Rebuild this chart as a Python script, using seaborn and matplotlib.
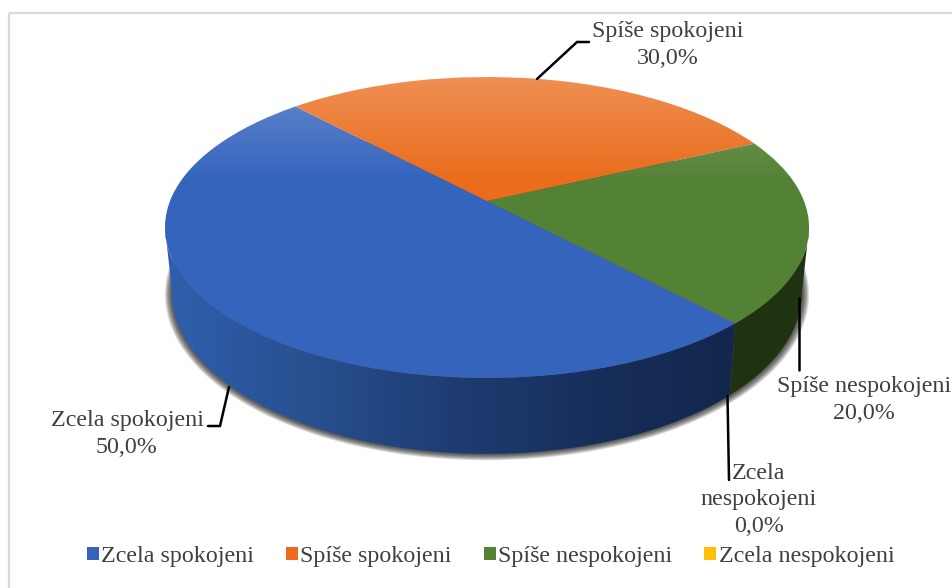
"""3D style pie chart of satisfaction answers."""

import matplotlib
matplotlib.use("Agg")
import matplotlib.pyplot as plt
import numpy as np
import seaborn as sns
from matplotlib.colors import LinearSegmentedColormap
from matplotlib.patches import Polygon, Rectangle
from matplotlib.transforms import Transform

categories = ["Zcela spokojeni", "Spíše spokojeni", "Spíše nespokojeni", "Zcela nespokojeni"]
values = [50.0, 30.0, 20.0, 0.0]
colors = ["#3564BD", "#EA6C1C", "#548235", "#FFC000"]
wall_colors = ["#1E3C72", "#A6490F", "#1F3311", "#B58800"]

sns.set_theme(style="white")
plt.rcParams["font.family"] = ["Liberation Serif", "DejaVu Serif"]

TEXT = "#404040"
FS = 17.3
K = 0.176


class Perspective(Transform):
    """Map the unit circle of the pie onto the tilted disc, in pixels."""
    input_dims = 2
    output_dims = 2
    is_separable = False
    has_inverse = False

    def __init__(self, cx, a, y0, b, k=K):
        super().__init__()
        self.cx, self.a, self.y0, self.b, self.k = cx, a, y0, b, k

    def transform_non_affine(self, xy):
        xy = np.asarray(xy, dtype=float)
        d = 1 + self.k * xy[:, 1]
        return np.column_stack((self.cx + self.a * xy[:, 0] / d,
                                (self.y0 + self.b * xy[:, 1]) / d))


top = Perspective(487, 317, 201, -110.4)
bottom = Perspective(487, 310, 264, -110.0)


def rim(persp, t1, t2, n=200):
    t = np.radians(np.linspace(t1, t2, n))
    return persp.transform_non_affine(np.column_stack((np.cos(t), np.sin(t))))


fig = plt.figure(figsize=(9.53, 5.88), dpi=100)
ax = fig.add_axes([0, 0, 1, 1])

wedges, _ = ax.pie(values, colors=colors, startangle=-47, counterclock=False,
                   wedgeprops={"linewidth": 0, "zorder": 5})
for w in wedges:
    w.set_transform(top + ax.transData)

# outer frame, cut by the picture on the right and at the bottom
ax.add_patch(Rectangle((9.5, 12.5), 960, 600, fill=False, ec="#D9D9D9", lw=1.6, zorder=0))

# soft shadow under the disc
for off in np.arange(7, 0, -1):
    p = Perspective(487, 310 + off, 264 + off * 0.2, -110.0 - off * 0.55)
    ax.add_patch(Polygon(rim(p, 0, 360), fc="#111111", ec="none", alpha=0.15, zorder=1))

# side walls of the front half
front_lo, front_hi = -180 + np.degrees(np.arcsin(K)), -np.degrees(np.arcsin(K))
wall_cmap = LinearSegmentedColormap.from_list(
    "wall", ["#2F5FAE", "#28508F", "#1E3C72", "#172E5A", "#13264C"])
for i, w in enumerate(wedges):
    if w.theta2 - w.theta1 <= 0:
        continue
    for shift in (-360, 0, 360):
        lo, hi = max(w.theta1 + shift, front_lo), min(w.theta2 + shift, front_hi)
        if hi <= lo:
            continue
        pts = np.vstack((rim(top, lo, hi), rim(bottom, hi, lo)))
        if i == 0:
            im = ax.imshow(np.linspace(0, 1, 256)[None, :], cmap=wall_cmap, aspect="auto",
                           extent=[165, 745, 460, 220], zorder=3)
            im.set_clip_path(Polygon(pts, transform=ax.transData))
        else:
            ax.add_patch(Polygon(pts, fc=wall_colors[i], ec="none", zorder=2))

# light falling on the far side of the disc
glow = np.ones((256, 1, 4))
glow[:, 0, 3] = np.clip(np.linspace(0.26, -0.02, 256), 0, 1)
im = ax.imshow(glow, aspect="auto", extent=[160, 815, 190, 70], zorder=6)
im.set_clip_path(Polygon(rim(top, 0, 360), transform=ax.transData))

# leader lines
leaders = [
    ([537, 577, 589], [79, 42, 42]),
    ([229, 220, 208], [387, 426, 426]),
    ([799, 799], [298, 370]),
    ([727.5, 729], [396, 480]),
]
for xs, ys in leaders:
    ax.plot(xs, ys, color="black", lw=1.8, solid_joinstyle="miter", zorder=7)

# data labels
label_pos = [(127, 434), (668, 45), (864, 400), (759, 500)]
for cat, val, (x, y) in zip(categories, values, label_pos):
    name = cat.replace(" ", "\n") if val == 0 else cat
    ax.text(x, y, f"{name}\n{val:.1f}%".replace(".", ","), ha="center", va="center",
            fontsize=FS, color=TEXT, linespacing=1.36, zorder=8)

ax.set_aspect("auto")
ax.set_xlim(0, 953)
ax.set_ylim(588, 0)
ax.axis("off")

ax.legend(wedges, categories, ncols=4, frameon=False, loc="center",
          bbox_to_anchor=(490.5 / 953, 1 - 556.5 / 588), fontsize=FS, labelcolor=TEXT,
          handlelength=0.5, handleheight=0.5, handletextpad=0.1, columnspacing=1.33,
          borderpad=0, borderaxespad=0)

fig.savefig("out.png", dpi=100)
